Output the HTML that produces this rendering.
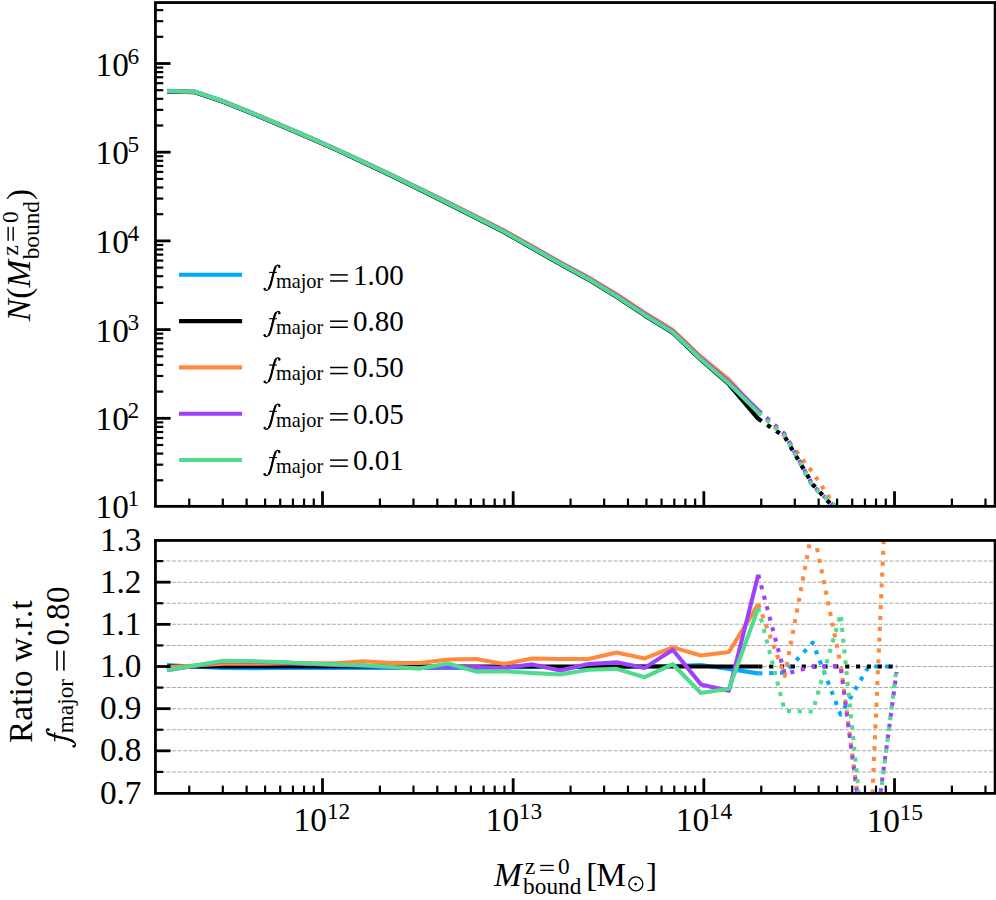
<!DOCTYPE html><html><head><meta charset="utf-8"><style>html,body{margin:0;padding:0;background:#fff;}svg{display:block;}text{font-family:"Liberation Serif",serif;fill:#000;}</style></head><body>
<svg width="996" height="900" viewBox="0 0 996 900">
<rect x="0" y="0" width="996" height="900" fill="#fff"/>
<defs>
<clipPath id="ct"><rect x="155.45" y="2.55" width="839.6500000000001" height="503.8"/></clipPath>
<clipPath id="cb"><rect x="155.45" y="540.45" width="839.6500000000001" height="252.94999999999993"/></clipPath>
</defs>
<line x1="155.45" y1="771.90" x2="995.1" y2="771.90" stroke="#a8a8a8" stroke-width="1.04" stroke-dasharray="3.85 1.67"/>
<line x1="155.45" y1="750.82" x2="995.1" y2="750.82" stroke="#a8a8a8" stroke-width="1.04" stroke-dasharray="3.85 1.67"/>
<line x1="155.45" y1="729.74" x2="995.1" y2="729.74" stroke="#a8a8a8" stroke-width="1.04" stroke-dasharray="3.85 1.67"/>
<line x1="155.45" y1="708.66" x2="995.1" y2="708.66" stroke="#a8a8a8" stroke-width="1.04" stroke-dasharray="3.85 1.67"/>
<line x1="155.45" y1="687.58" x2="995.1" y2="687.58" stroke="#a8a8a8" stroke-width="1.04" stroke-dasharray="3.85 1.67"/>
<line x1="155.45" y1="666.50" x2="995.1" y2="666.50" stroke="#a8a8a8" stroke-width="1.04" stroke-dasharray="3.85 1.67"/>
<line x1="155.45" y1="645.42" x2="995.1" y2="645.42" stroke="#a8a8a8" stroke-width="1.04" stroke-dasharray="3.85 1.67"/>
<line x1="155.45" y1="624.34" x2="995.1" y2="624.34" stroke="#a8a8a8" stroke-width="1.04" stroke-dasharray="3.85 1.67"/>
<line x1="155.45" y1="603.26" x2="995.1" y2="603.26" stroke="#a8a8a8" stroke-width="1.04" stroke-dasharray="3.85 1.67"/>
<line x1="155.45" y1="582.18" x2="995.1" y2="582.18" stroke="#a8a8a8" stroke-width="1.04" stroke-dasharray="3.85 1.67"/>
<line x1="155.45" y1="561.10" x2="995.1" y2="561.10" stroke="#a8a8a8" stroke-width="1.04" stroke-dasharray="3.85 1.67"/>
<polyline clip-path="url(#ct)" points="167.00,91.50 195.10,92.20 223.20,101.80 251.30,113.10 279.40,125.10 307.50,137.00 335.60,149.50 363.70,162.60 391.80,175.90 419.90,189.70 448.00,203.60 476.10,217.80 504.20,232.20 532.30,248.30 560.40,264.30 588.50,279.60 616.60,296.70 644.70,315.40 672.80,332.80 700.90,359.80 729.00,384.30 758.30,418.80" fill="none" stroke="#00a9ff" stroke-width="4.1" stroke-linejoin="round" stroke-linecap="butt"/>
<polyline clip-path="url(#ct)" points="758.30,418.80 784.70,436.70 812.70,484.50 840.60,515.00 868.60,600.00 896.60,650.00" fill="none" stroke="#00a9ff" stroke-width="4.1" stroke-linejoin="round" stroke-linecap="butt" stroke-dasharray="4.10 6.76"/>
<polyline clip-path="url(#cb)" points="167.00,665.00 195.10,666.80 223.20,668.00 251.30,668.30 279.40,668.00 307.50,668.00 335.60,668.00 363.70,668.00 391.80,668.00 419.90,668.00 448.00,668.00 476.10,668.00 504.20,667.50 532.30,667.00 560.40,667.00 588.50,667.00 616.60,667.00 644.70,666.50 672.80,666.00 700.90,665.00 729.00,669.00 758.30,673.40" fill="none" stroke="#00a9ff" stroke-width="4.1" stroke-linejoin="round" stroke-linecap="butt"/>
<polyline clip-path="url(#cb)" points="758.30,673.40 784.70,672.80 812.70,642.60 840.60,714.70 868.60,666.50 896.60,666.50" fill="none" stroke="#00a9ff" stroke-width="4.1" stroke-linejoin="round" stroke-linecap="butt" stroke-dasharray="4.10 6.76"/>
<polyline clip-path="url(#ct)" points="167.00,91.50 195.10,92.20 223.20,101.80 251.30,113.10 279.40,125.10 307.50,137.00 335.60,149.50 363.70,162.60 391.80,175.90 419.90,189.70 448.00,203.60 476.10,217.80 504.20,232.20 532.30,248.30 560.40,264.30 588.50,279.60 616.60,296.70 644.70,315.40 672.80,332.80 700.90,359.80 729.00,384.30 758.30,418.80" fill="none" stroke="#000000" stroke-width="4.1" stroke-linejoin="round" stroke-linecap="butt"/>
<polyline clip-path="url(#ct)" points="758.30,418.80 784.70,436.70 812.70,484.50 840.60,515.00 868.60,600.00 896.60,650.00" fill="none" stroke="#000000" stroke-width="4.1" stroke-linejoin="round" stroke-linecap="butt" stroke-dasharray="4.10 6.76"/>
<polyline clip-path="url(#cb)" points="167.00,666.50 195.10,666.50 223.20,666.50 251.30,666.50 279.40,666.50 307.50,666.50 335.60,666.50 363.70,666.50 391.80,666.50 419.90,666.50 448.00,666.50 476.10,666.50 504.20,666.50 532.30,666.50 560.40,666.50 588.50,666.50 616.60,666.50 644.70,666.50 672.80,666.50 700.90,666.50 729.00,666.50 758.30,666.50" fill="none" stroke="#000000" stroke-width="4.1" stroke-linejoin="round" stroke-linecap="butt"/>
<polyline clip-path="url(#cb)" points="758.30,666.50 784.70,666.50 812.70,666.50 840.60,666.50 868.60,666.50 896.60,666.50" fill="none" stroke="#000000" stroke-width="4.1" stroke-linejoin="round" stroke-linecap="butt" stroke-dasharray="4.10 6.76"/>
<polyline clip-path="url(#ct)" points="167.00,91.00 195.10,91.70 223.20,101.30 251.30,112.60 279.40,124.60 307.50,136.50 335.60,149.00 363.70,161.90 391.80,175.00 419.90,188.60 448.00,202.30 476.10,216.30 504.20,230.50 532.30,246.40 560.40,262.20 588.50,277.30 616.60,294.20 644.70,312.70 672.80,329.90 700.90,356.70 729.00,379.50 758.30,412.00" fill="none" stroke="#ff8a3d" stroke-width="4.1" stroke-linejoin="round" stroke-linecap="butt"/>
<polyline clip-path="url(#ct)" points="758.30,412.00 784.70,436.00 812.70,472.50 840.60,514.50 868.60,600.00 896.60,650.00" fill="none" stroke="#ff8a3d" stroke-width="4.1" stroke-linejoin="round" stroke-linecap="butt" stroke-dasharray="4.10 6.76"/>
<polyline clip-path="url(#cb)" points="167.00,667.20 195.10,665.50 223.20,663.80 251.30,663.60 279.40,663.50 307.50,663.30 335.60,663.30 363.70,661.30 391.80,663.00 419.90,663.00 448.00,659.50 476.10,659.00 504.20,664.00 532.30,658.50 560.40,659.00 588.50,659.00 616.60,652.50 644.70,658.40 672.80,647.40 700.90,655.50 729.00,652.00 758.30,604.10" fill="none" stroke="#ff8a3d" stroke-width="4.1" stroke-linejoin="round" stroke-linecap="butt"/>
<polyline clip-path="url(#cb)" points="758.30,604.10 784.70,676.00 812.70,527.00 840.60,664.00" fill="none" stroke="#ff8a3d" stroke-width="4.1" stroke-linejoin="round" stroke-linecap="butt" stroke-dasharray="4.10 6.76"/>
<polyline clip-path="url(#cb)" points="840.60,664.00 868.60,881.52 896.60,249.12" fill="none" stroke="#ff8a3d" stroke-width="4.1" stroke-linejoin="round" stroke-linecap="butt" stroke-dasharray="4.10 6.76" stroke-dashoffset="159.64"/>
<polyline clip-path="url(#ct)" points="167.00,90.90 195.10,91.60 223.20,101.20 251.30,112.50 279.40,124.50 307.50,136.40 335.60,148.90 363.70,161.92 391.80,175.14 419.90,188.86 448.00,202.68 476.10,216.80 504.20,231.12 532.30,247.14 560.40,263.06 588.50,278.28 616.60,295.30 644.70,313.92 672.80,331.24 700.90,358.16 729.00,382.00 758.30,410.30" fill="none" stroke="#a040ff" stroke-width="4.1" stroke-linejoin="round" stroke-linecap="butt"/>
<polyline clip-path="url(#ct)" points="758.30,410.30 784.70,434.00 812.70,485.00 840.60,513.00 868.60,600.00 896.60,650.00" fill="none" stroke="#a040ff" stroke-width="4.1" stroke-linejoin="round" stroke-linecap="butt" stroke-dasharray="4.10 6.76"/>
<polyline clip-path="url(#cb)" points="167.00,670.30 195.10,665.80 223.20,661.20 251.30,661.60 279.40,662.40 307.50,663.90 335.60,664.90 363.70,665.70 391.80,667.30 419.90,668.00 448.00,666.80 476.10,667.00 504.20,668.00 532.30,664.40 560.40,670.50 588.50,664.10 616.60,662.20 644.70,667.90 672.80,649.70 700.90,684.40 729.00,690.70 758.30,574.70" fill="none" stroke="#a040ff" stroke-width="4.1" stroke-linejoin="round" stroke-linecap="butt"/>
<polyline clip-path="url(#cb)" points="758.30,574.70 784.70,674.00 812.70,666.50 840.60,666.00 868.60,881.52 896.60,672.00" fill="none" stroke="#a040ff" stroke-width="4.1" stroke-linejoin="round" stroke-linecap="butt" stroke-dasharray="4.10 6.76"/>
<polyline clip-path="url(#ct)" points="167.00,91.00 195.10,91.70 223.20,101.30 251.30,112.60 279.40,124.60 307.50,136.50 335.60,149.00 363.70,162.10 391.80,175.40 419.90,189.20 448.00,203.10 476.10,217.30 504.20,231.70 532.30,247.80 560.40,263.80 588.50,279.10 616.60,296.20 644.70,314.90 672.80,332.30 700.90,359.30 729.00,383.50 758.30,412.60" fill="none" stroke="#50dc8c" stroke-width="4.1" stroke-linejoin="round" stroke-linecap="butt"/>
<polyline clip-path="url(#ct)" points="758.30,412.60 784.70,435.50 812.70,487.00 840.60,509.50 868.60,600.00 896.60,650.00" fill="none" stroke="#50dc8c" stroke-width="4.1" stroke-linejoin="round" stroke-linecap="butt" stroke-dasharray="4.10 6.76"/>
<polyline clip-path="url(#cb)" points="167.00,670.00 195.10,665.50 223.20,660.80 251.30,661.20 279.40,662.00 307.50,663.50 335.60,664.50 363.70,665.30 391.80,667.00 419.90,668.60 448.00,663.50 476.10,671.60 504.20,671.30 532.30,673.00 560.40,674.50 588.50,669.70 616.60,668.90 644.70,677.20 672.80,664.20 700.90,693.00 729.00,688.70 758.30,607.90" fill="none" stroke="#50dc8c" stroke-width="4.1" stroke-linejoin="round" stroke-linecap="butt"/>
<polyline clip-path="url(#cb)" points="758.30,607.90 784.70,711.00 812.70,711.50 840.60,614.00 868.60,889.95 896.60,668.00" fill="none" stroke="#50dc8c" stroke-width="4.1" stroke-linejoin="round" stroke-linecap="butt" stroke-dasharray="4.10 6.76"/>
<line x1="189.23" y1="506.35" x2="189.23" y2="498.55" stroke="#000" stroke-width="2.2"/>
<line x1="222.80" y1="506.35" x2="222.80" y2="498.55" stroke="#000" stroke-width="2.2"/>
<line x1="246.62" y1="506.35" x2="246.62" y2="498.55" stroke="#000" stroke-width="2.2"/>
<line x1="265.10" y1="506.35" x2="265.10" y2="498.55" stroke="#000" stroke-width="2.2"/>
<line x1="280.20" y1="506.35" x2="280.20" y2="498.55" stroke="#000" stroke-width="2.2"/>
<line x1="292.96" y1="506.35" x2="292.96" y2="498.55" stroke="#000" stroke-width="2.2"/>
<line x1="304.02" y1="506.35" x2="304.02" y2="498.55" stroke="#000" stroke-width="2.2"/>
<line x1="313.78" y1="506.35" x2="313.78" y2="498.55" stroke="#000" stroke-width="2.2"/>
<line x1="322.50" y1="506.35" x2="322.50" y2="491.25" stroke="#000" stroke-width="2.8"/>
<line x1="379.90" y1="506.35" x2="379.90" y2="498.55" stroke="#000" stroke-width="2.2"/>
<line x1="413.47" y1="506.35" x2="413.47" y2="498.55" stroke="#000" stroke-width="2.2"/>
<line x1="437.29" y1="506.35" x2="437.29" y2="498.55" stroke="#000" stroke-width="2.2"/>
<line x1="455.77" y1="506.35" x2="455.77" y2="498.55" stroke="#000" stroke-width="2.2"/>
<line x1="470.87" y1="506.35" x2="470.87" y2="498.55" stroke="#000" stroke-width="2.2"/>
<line x1="483.63" y1="506.35" x2="483.63" y2="498.55" stroke="#000" stroke-width="2.2"/>
<line x1="494.69" y1="506.35" x2="494.69" y2="498.55" stroke="#000" stroke-width="2.2"/>
<line x1="504.45" y1="506.35" x2="504.45" y2="498.55" stroke="#000" stroke-width="2.2"/>
<line x1="513.17" y1="506.35" x2="513.17" y2="491.25" stroke="#000" stroke-width="2.8"/>
<line x1="570.57" y1="506.35" x2="570.57" y2="498.55" stroke="#000" stroke-width="2.2"/>
<line x1="604.14" y1="506.35" x2="604.14" y2="498.55" stroke="#000" stroke-width="2.2"/>
<line x1="627.96" y1="506.35" x2="627.96" y2="498.55" stroke="#000" stroke-width="2.2"/>
<line x1="646.44" y1="506.35" x2="646.44" y2="498.55" stroke="#000" stroke-width="2.2"/>
<line x1="661.54" y1="506.35" x2="661.54" y2="498.55" stroke="#000" stroke-width="2.2"/>
<line x1="674.30" y1="506.35" x2="674.30" y2="498.55" stroke="#000" stroke-width="2.2"/>
<line x1="685.36" y1="506.35" x2="685.36" y2="498.55" stroke="#000" stroke-width="2.2"/>
<line x1="695.12" y1="506.35" x2="695.12" y2="498.55" stroke="#000" stroke-width="2.2"/>
<line x1="703.84" y1="506.35" x2="703.84" y2="491.25" stroke="#000" stroke-width="2.8"/>
<line x1="761.24" y1="506.35" x2="761.24" y2="498.55" stroke="#000" stroke-width="2.2"/>
<line x1="794.81" y1="506.35" x2="794.81" y2="498.55" stroke="#000" stroke-width="2.2"/>
<line x1="818.63" y1="506.35" x2="818.63" y2="498.55" stroke="#000" stroke-width="2.2"/>
<line x1="837.11" y1="506.35" x2="837.11" y2="498.55" stroke="#000" stroke-width="2.2"/>
<line x1="852.21" y1="506.35" x2="852.21" y2="498.55" stroke="#000" stroke-width="2.2"/>
<line x1="864.97" y1="506.35" x2="864.97" y2="498.55" stroke="#000" stroke-width="2.2"/>
<line x1="876.03" y1="506.35" x2="876.03" y2="498.55" stroke="#000" stroke-width="2.2"/>
<line x1="885.79" y1="506.35" x2="885.79" y2="498.55" stroke="#000" stroke-width="2.2"/>
<line x1="894.51" y1="506.35" x2="894.51" y2="491.25" stroke="#000" stroke-width="2.8"/>
<line x1="951.91" y1="506.35" x2="951.91" y2="498.55" stroke="#000" stroke-width="2.2"/>
<line x1="985.48" y1="506.35" x2="985.48" y2="498.55" stroke="#000" stroke-width="2.2"/>
<line x1="189.23" y1="793.4" x2="189.23" y2="785.60" stroke="#000" stroke-width="2.2"/>
<line x1="222.80" y1="793.4" x2="222.80" y2="785.60" stroke="#000" stroke-width="2.2"/>
<line x1="246.62" y1="793.4" x2="246.62" y2="785.60" stroke="#000" stroke-width="2.2"/>
<line x1="265.10" y1="793.4" x2="265.10" y2="785.60" stroke="#000" stroke-width="2.2"/>
<line x1="280.20" y1="793.4" x2="280.20" y2="785.60" stroke="#000" stroke-width="2.2"/>
<line x1="292.96" y1="793.4" x2="292.96" y2="785.60" stroke="#000" stroke-width="2.2"/>
<line x1="304.02" y1="793.4" x2="304.02" y2="785.60" stroke="#000" stroke-width="2.2"/>
<line x1="313.78" y1="793.4" x2="313.78" y2="785.60" stroke="#000" stroke-width="2.2"/>
<line x1="322.50" y1="793.4" x2="322.50" y2="778.30" stroke="#000" stroke-width="2.8"/>
<line x1="379.90" y1="793.4" x2="379.90" y2="785.60" stroke="#000" stroke-width="2.2"/>
<line x1="413.47" y1="793.4" x2="413.47" y2="785.60" stroke="#000" stroke-width="2.2"/>
<line x1="437.29" y1="793.4" x2="437.29" y2="785.60" stroke="#000" stroke-width="2.2"/>
<line x1="455.77" y1="793.4" x2="455.77" y2="785.60" stroke="#000" stroke-width="2.2"/>
<line x1="470.87" y1="793.4" x2="470.87" y2="785.60" stroke="#000" stroke-width="2.2"/>
<line x1="483.63" y1="793.4" x2="483.63" y2="785.60" stroke="#000" stroke-width="2.2"/>
<line x1="494.69" y1="793.4" x2="494.69" y2="785.60" stroke="#000" stroke-width="2.2"/>
<line x1="504.45" y1="793.4" x2="504.45" y2="785.60" stroke="#000" stroke-width="2.2"/>
<line x1="513.17" y1="793.4" x2="513.17" y2="778.30" stroke="#000" stroke-width="2.8"/>
<line x1="570.57" y1="793.4" x2="570.57" y2="785.60" stroke="#000" stroke-width="2.2"/>
<line x1="604.14" y1="793.4" x2="604.14" y2="785.60" stroke="#000" stroke-width="2.2"/>
<line x1="627.96" y1="793.4" x2="627.96" y2="785.60" stroke="#000" stroke-width="2.2"/>
<line x1="646.44" y1="793.4" x2="646.44" y2="785.60" stroke="#000" stroke-width="2.2"/>
<line x1="661.54" y1="793.4" x2="661.54" y2="785.60" stroke="#000" stroke-width="2.2"/>
<line x1="674.30" y1="793.4" x2="674.30" y2="785.60" stroke="#000" stroke-width="2.2"/>
<line x1="685.36" y1="793.4" x2="685.36" y2="785.60" stroke="#000" stroke-width="2.2"/>
<line x1="695.12" y1="793.4" x2="695.12" y2="785.60" stroke="#000" stroke-width="2.2"/>
<line x1="703.84" y1="793.4" x2="703.84" y2="778.30" stroke="#000" stroke-width="2.8"/>
<line x1="761.24" y1="793.4" x2="761.24" y2="785.60" stroke="#000" stroke-width="2.2"/>
<line x1="794.81" y1="793.4" x2="794.81" y2="785.60" stroke="#000" stroke-width="2.2"/>
<line x1="818.63" y1="793.4" x2="818.63" y2="785.60" stroke="#000" stroke-width="2.2"/>
<line x1="837.11" y1="793.4" x2="837.11" y2="785.60" stroke="#000" stroke-width="2.2"/>
<line x1="852.21" y1="793.4" x2="852.21" y2="785.60" stroke="#000" stroke-width="2.2"/>
<line x1="864.97" y1="793.4" x2="864.97" y2="785.60" stroke="#000" stroke-width="2.2"/>
<line x1="876.03" y1="793.4" x2="876.03" y2="785.60" stroke="#000" stroke-width="2.2"/>
<line x1="885.79" y1="793.4" x2="885.79" y2="785.60" stroke="#000" stroke-width="2.2"/>
<line x1="894.51" y1="793.4" x2="894.51" y2="778.30" stroke="#000" stroke-width="2.8"/>
<line x1="951.91" y1="793.4" x2="951.91" y2="785.60" stroke="#000" stroke-width="2.2"/>
<line x1="985.48" y1="793.4" x2="985.48" y2="785.60" stroke="#000" stroke-width="2.2"/>
<line x1="155.45" y1="480.30" x2="163.25" y2="480.30" stroke="#000" stroke-width="2.2"/>
<line x1="155.45" y1="464.68" x2="163.25" y2="464.68" stroke="#000" stroke-width="2.2"/>
<line x1="155.45" y1="453.60" x2="163.25" y2="453.60" stroke="#000" stroke-width="2.2"/>
<line x1="155.45" y1="445.00" x2="163.25" y2="445.00" stroke="#000" stroke-width="2.2"/>
<line x1="155.45" y1="437.98" x2="163.25" y2="437.98" stroke="#000" stroke-width="2.2"/>
<line x1="155.45" y1="432.04" x2="163.25" y2="432.04" stroke="#000" stroke-width="2.2"/>
<line x1="155.45" y1="426.90" x2="163.25" y2="426.90" stroke="#000" stroke-width="2.2"/>
<line x1="155.45" y1="422.36" x2="163.25" y2="422.36" stroke="#000" stroke-width="2.2"/>
<line x1="155.45" y1="418.30" x2="170.55" y2="418.30" stroke="#000" stroke-width="2.8"/>
<line x1="155.45" y1="391.60" x2="163.25" y2="391.60" stroke="#000" stroke-width="2.2"/>
<line x1="155.45" y1="375.98" x2="163.25" y2="375.98" stroke="#000" stroke-width="2.2"/>
<line x1="155.45" y1="364.90" x2="163.25" y2="364.90" stroke="#000" stroke-width="2.2"/>
<line x1="155.45" y1="356.30" x2="163.25" y2="356.30" stroke="#000" stroke-width="2.2"/>
<line x1="155.45" y1="349.28" x2="163.25" y2="349.28" stroke="#000" stroke-width="2.2"/>
<line x1="155.45" y1="343.34" x2="163.25" y2="343.34" stroke="#000" stroke-width="2.2"/>
<line x1="155.45" y1="338.20" x2="163.25" y2="338.20" stroke="#000" stroke-width="2.2"/>
<line x1="155.45" y1="333.66" x2="163.25" y2="333.66" stroke="#000" stroke-width="2.2"/>
<line x1="155.45" y1="329.60" x2="170.55" y2="329.60" stroke="#000" stroke-width="2.8"/>
<line x1="155.45" y1="302.90" x2="163.25" y2="302.90" stroke="#000" stroke-width="2.2"/>
<line x1="155.45" y1="287.28" x2="163.25" y2="287.28" stroke="#000" stroke-width="2.2"/>
<line x1="155.45" y1="276.20" x2="163.25" y2="276.20" stroke="#000" stroke-width="2.2"/>
<line x1="155.45" y1="267.60" x2="163.25" y2="267.60" stroke="#000" stroke-width="2.2"/>
<line x1="155.45" y1="260.58" x2="163.25" y2="260.58" stroke="#000" stroke-width="2.2"/>
<line x1="155.45" y1="254.64" x2="163.25" y2="254.64" stroke="#000" stroke-width="2.2"/>
<line x1="155.45" y1="249.50" x2="163.25" y2="249.50" stroke="#000" stroke-width="2.2"/>
<line x1="155.45" y1="244.96" x2="163.25" y2="244.96" stroke="#000" stroke-width="2.2"/>
<line x1="155.45" y1="240.90" x2="170.55" y2="240.90" stroke="#000" stroke-width="2.8"/>
<line x1="155.45" y1="214.20" x2="163.25" y2="214.20" stroke="#000" stroke-width="2.2"/>
<line x1="155.45" y1="198.58" x2="163.25" y2="198.58" stroke="#000" stroke-width="2.2"/>
<line x1="155.45" y1="187.50" x2="163.25" y2="187.50" stroke="#000" stroke-width="2.2"/>
<line x1="155.45" y1="178.90" x2="163.25" y2="178.90" stroke="#000" stroke-width="2.2"/>
<line x1="155.45" y1="171.88" x2="163.25" y2="171.88" stroke="#000" stroke-width="2.2"/>
<line x1="155.45" y1="165.94" x2="163.25" y2="165.94" stroke="#000" stroke-width="2.2"/>
<line x1="155.45" y1="160.80" x2="163.25" y2="160.80" stroke="#000" stroke-width="2.2"/>
<line x1="155.45" y1="156.26" x2="163.25" y2="156.26" stroke="#000" stroke-width="2.2"/>
<line x1="155.45" y1="152.20" x2="170.55" y2="152.20" stroke="#000" stroke-width="2.8"/>
<line x1="155.45" y1="125.50" x2="163.25" y2="125.50" stroke="#000" stroke-width="2.2"/>
<line x1="155.45" y1="109.88" x2="163.25" y2="109.88" stroke="#000" stroke-width="2.2"/>
<line x1="155.45" y1="98.80" x2="163.25" y2="98.80" stroke="#000" stroke-width="2.2"/>
<line x1="155.45" y1="90.20" x2="163.25" y2="90.20" stroke="#000" stroke-width="2.2"/>
<line x1="155.45" y1="83.18" x2="163.25" y2="83.18" stroke="#000" stroke-width="2.2"/>
<line x1="155.45" y1="77.24" x2="163.25" y2="77.24" stroke="#000" stroke-width="2.2"/>
<line x1="155.45" y1="72.10" x2="163.25" y2="72.10" stroke="#000" stroke-width="2.2"/>
<line x1="155.45" y1="67.56" x2="163.25" y2="67.56" stroke="#000" stroke-width="2.2"/>
<line x1="155.45" y1="63.50" x2="170.55" y2="63.50" stroke="#000" stroke-width="2.8"/>
<line x1="155.45" y1="36.80" x2="163.25" y2="36.80" stroke="#000" stroke-width="2.2"/>
<line x1="155.45" y1="21.18" x2="163.25" y2="21.18" stroke="#000" stroke-width="2.2"/>
<line x1="155.45" y1="10.10" x2="163.25" y2="10.10" stroke="#000" stroke-width="2.2"/>
<line x1="155.45" y1="771.90" x2="163.25" y2="771.90" stroke="#000" stroke-width="2.2"/>
<line x1="155.45" y1="750.82" x2="170.55" y2="750.82" stroke="#000" stroke-width="2.8"/>
<line x1="155.45" y1="729.74" x2="163.25" y2="729.74" stroke="#000" stroke-width="2.2"/>
<line x1="155.45" y1="708.66" x2="170.55" y2="708.66" stroke="#000" stroke-width="2.8"/>
<line x1="155.45" y1="687.58" x2="163.25" y2="687.58" stroke="#000" stroke-width="2.2"/>
<line x1="155.45" y1="666.50" x2="170.55" y2="666.50" stroke="#000" stroke-width="2.8"/>
<line x1="155.45" y1="645.42" x2="163.25" y2="645.42" stroke="#000" stroke-width="2.2"/>
<line x1="155.45" y1="624.34" x2="170.55" y2="624.34" stroke="#000" stroke-width="2.8"/>
<line x1="155.45" y1="603.26" x2="163.25" y2="603.26" stroke="#000" stroke-width="2.2"/>
<line x1="155.45" y1="582.18" x2="170.55" y2="582.18" stroke="#000" stroke-width="2.8"/>
<line x1="155.45" y1="561.10" x2="163.25" y2="561.10" stroke="#000" stroke-width="2.2"/>
<rect x="155.45" y="2.55" width="839.65" height="503.80" fill="none" stroke="#000" stroke-width="2.8"/>
<rect x="155.45" y="540.45" width="839.65" height="252.95" fill="none" stroke="#000" stroke-width="2.8"/>
<line x1="179.0" y1="274.80" x2="242.1" y2="274.80" stroke="#00a9ff" stroke-width="4.1"/>
<g transform="translate(263,284.75)"><path d="M16.9,-18.3 C16.3,-20.3 13.2,-20.0 11.9,-17.0 C10.6,-14.0 9.6,-8.5 8.6,-4.5 C7.6,-0.5 6.6,2.8 5.2,4.6 C4.0,6.0 2.2,6.0 1.5,4.6" fill="none" stroke="#000" stroke-width="1.25"/><path d="M12.6,-17.8 C11.0,-14.0 9.8,-8.5 8.8,-4.5 C8.0,-1.0 7.2,1.8 6.0,3.6" fill="none" stroke="#000" stroke-width="2.1" stroke-linecap="round"/><circle cx="16.3" cy="-17.9" r="1.2" fill="#000"/><circle cx="1.7" cy="4.3" r="1.25" fill="#000"/><rect x="6.1" y="-12.9" width="7.8" height="1.1" fill="#000"/></g>
<text x="275.9" y="287.80" font-size="20.30">major</text>
<rect x="330.10" y="274.15" width="17.70" height="1.5" fill="#000"/><rect x="330.10" y="280.20" width="17.70" height="1.5" fill="#000"/>
<text x="353.0" y="284.75" font-size="29.0">1.00</text>
<line x1="179.0" y1="321.10" x2="242.1" y2="321.10" stroke="#000000" stroke-width="4.1"/>
<g transform="translate(263,331.05)"><path d="M16.9,-18.3 C16.3,-20.3 13.2,-20.0 11.9,-17.0 C10.6,-14.0 9.6,-8.5 8.6,-4.5 C7.6,-0.5 6.6,2.8 5.2,4.6 C4.0,6.0 2.2,6.0 1.5,4.6" fill="none" stroke="#000" stroke-width="1.25"/><path d="M12.6,-17.8 C11.0,-14.0 9.8,-8.5 8.8,-4.5 C8.0,-1.0 7.2,1.8 6.0,3.6" fill="none" stroke="#000" stroke-width="2.1" stroke-linecap="round"/><circle cx="16.3" cy="-17.9" r="1.2" fill="#000"/><circle cx="1.7" cy="4.3" r="1.25" fill="#000"/><rect x="6.1" y="-12.9" width="7.8" height="1.1" fill="#000"/></g>
<text x="275.9" y="334.10" font-size="20.30">major</text>
<rect x="330.10" y="320.45" width="17.70" height="1.5" fill="#000"/><rect x="330.10" y="326.50" width="17.70" height="1.5" fill="#000"/>
<text x="353.0" y="331.05" font-size="29.0">0.80</text>
<line x1="179.0" y1="367.40" x2="242.1" y2="367.40" stroke="#ff8a3d" stroke-width="4.1"/>
<g transform="translate(263,377.35)"><path d="M16.9,-18.3 C16.3,-20.3 13.2,-20.0 11.9,-17.0 C10.6,-14.0 9.6,-8.5 8.6,-4.5 C7.6,-0.5 6.6,2.8 5.2,4.6 C4.0,6.0 2.2,6.0 1.5,4.6" fill="none" stroke="#000" stroke-width="1.25"/><path d="M12.6,-17.8 C11.0,-14.0 9.8,-8.5 8.8,-4.5 C8.0,-1.0 7.2,1.8 6.0,3.6" fill="none" stroke="#000" stroke-width="2.1" stroke-linecap="round"/><circle cx="16.3" cy="-17.9" r="1.2" fill="#000"/><circle cx="1.7" cy="4.3" r="1.25" fill="#000"/><rect x="6.1" y="-12.9" width="7.8" height="1.1" fill="#000"/></g>
<text x="275.9" y="380.40" font-size="20.30">major</text>
<rect x="330.10" y="366.75" width="17.70" height="1.5" fill="#000"/><rect x="330.10" y="372.80" width="17.70" height="1.5" fill="#000"/>
<text x="353.0" y="377.35" font-size="29.0">0.50</text>
<line x1="179.0" y1="413.70" x2="242.1" y2="413.70" stroke="#a040ff" stroke-width="4.1"/>
<g transform="translate(263,423.65)"><path d="M16.9,-18.3 C16.3,-20.3 13.2,-20.0 11.9,-17.0 C10.6,-14.0 9.6,-8.5 8.6,-4.5 C7.6,-0.5 6.6,2.8 5.2,4.6 C4.0,6.0 2.2,6.0 1.5,4.6" fill="none" stroke="#000" stroke-width="1.25"/><path d="M12.6,-17.8 C11.0,-14.0 9.8,-8.5 8.8,-4.5 C8.0,-1.0 7.2,1.8 6.0,3.6" fill="none" stroke="#000" stroke-width="2.1" stroke-linecap="round"/><circle cx="16.3" cy="-17.9" r="1.2" fill="#000"/><circle cx="1.7" cy="4.3" r="1.25" fill="#000"/><rect x="6.1" y="-12.9" width="7.8" height="1.1" fill="#000"/></g>
<text x="275.9" y="426.70" font-size="20.30">major</text>
<rect x="330.10" y="413.05" width="17.70" height="1.5" fill="#000"/><rect x="330.10" y="419.10" width="17.70" height="1.5" fill="#000"/>
<text x="353.0" y="423.65" font-size="29.0">0.05</text>
<line x1="179.0" y1="460.00" x2="242.1" y2="460.00" stroke="#50dc8c" stroke-width="4.1"/>
<g transform="translate(263,469.95)"><path d="M16.9,-18.3 C16.3,-20.3 13.2,-20.0 11.9,-17.0 C10.6,-14.0 9.6,-8.5 8.6,-4.5 C7.6,-0.5 6.6,2.8 5.2,4.6 C4.0,6.0 2.2,6.0 1.5,4.6" fill="none" stroke="#000" stroke-width="1.25"/><path d="M12.6,-17.8 C11.0,-14.0 9.8,-8.5 8.8,-4.5 C8.0,-1.0 7.2,1.8 6.0,3.6" fill="none" stroke="#000" stroke-width="2.1" stroke-linecap="round"/><circle cx="16.3" cy="-17.9" r="1.2" fill="#000"/><circle cx="1.7" cy="4.3" r="1.25" fill="#000"/><rect x="6.1" y="-12.9" width="7.8" height="1.1" fill="#000"/></g>
<text x="275.9" y="473.00" font-size="20.30">major</text>
<rect x="330.10" y="459.35" width="17.70" height="1.5" fill="#000"/><rect x="330.10" y="465.40" width="17.70" height="1.5" fill="#000"/>
<text x="353.0" y="469.95" font-size="29.0">0.01</text>
<text x="95.6" y="76.0" font-size="33.3">10</text>
<text x="127.6" y="64.00" font-size="23.3">6</text>
<text x="95.6" y="163.7" font-size="33.3">10</text>
<text x="127.6" y="151.70" font-size="23.3">5</text>
<text x="95.6" y="252.8" font-size="33.3">10</text>
<text x="127.6" y="240.80" font-size="23.3">4</text>
<text x="95.6" y="341.9" font-size="33.3">10</text>
<text x="127.6" y="329.90" font-size="23.3">3</text>
<text x="95.6" y="429.8" font-size="33.3">10</text>
<text x="127.6" y="417.80" font-size="23.3">2</text>
<text x="95.6" y="518.0" font-size="33.3">10</text>
<text x="127.6" y="506.00" font-size="23.3">1</text>
<text x="141.5" y="803.58" font-size="33.3" text-anchor="end">0.7</text>
<text x="141.5" y="761.42" font-size="33.3" text-anchor="end">0.8</text>
<text x="141.5" y="719.26" font-size="33.3" text-anchor="end">0.9</text>
<text x="141.5" y="677.10" font-size="33.3" text-anchor="end">1.0</text>
<text x="141.5" y="634.94" font-size="33.3" text-anchor="end">1.1</text>
<text x="141.5" y="592.78" font-size="33.3" text-anchor="end">1.2</text>
<text x="141.5" y="550.62" font-size="33.3" text-anchor="end">1.3</text>
<text x="293.60" y="831.1" font-size="33.3">10</text>
<text x="326.95" y="818.90" font-size="23.3">12</text>
<text x="485.80" y="831.1" font-size="33.3">10</text>
<text x="518.75" y="818.90" font-size="23.3">13</text>
<text x="675.80" y="831.1" font-size="33.3">10</text>
<text x="708.75" y="818.90" font-size="23.3">14</text>
<text x="866.70" y="832.0" font-size="33.3">10</text>
<text x="899.65" y="819.80" font-size="23.3">15</text>
<text x="493.89" y="885.6" font-size="33.3" font-style="italic">M</text>
<text x="525.07" y="873.6" font-size="23.3">z</text>
<rect x="540.20" y="864.85" width="13.60" height="1.3" fill="#000"/><rect x="540.20" y="869.65" width="13.60" height="1.3" fill="#000"/>
<text x="557.91" y="873.5" font-size="23.3">0</text>
<text x="523.1" y="894.0" font-size="23.3">bound</text>
<text x="586.33" y="886.4" font-size="33.3">[</text>
<text x="596.34" y="885.9" font-size="33.3">M</text>
<circle cx="635.85" cy="883.9" r="7.0" fill="none" stroke="#000" stroke-width="1.4"/>
<circle cx="635.6" cy="884.1" r="1.35" fill="#000"/>
<text x="645.90" y="886.4" font-size="33.3">]</text>
<g transform="translate(29.8,322.1) rotate(-90)">
<text x="0.94" y="0" font-size="33.3" font-style="italic">N</text>
<text x="23.3" y="0" font-size="33.3">(</text>
<text x="34.5" y="0" font-size="33.3" font-style="italic">M</text>
<text x="66.5" y="-12" font-size="23.3">z</text>
<rect x="81.30" y="-22.35" width="14.00" height="1.4" fill="#000"/><rect x="81.30" y="-17.30" width="14.00" height="1.4" fill="#000"/>
<text x="99.1" y="-12" font-size="23.3">0</text>
<text x="62.8" y="8.7" font-size="23.3">bound</text>
<text x="122.0" y="0" font-size="33.3">)</text>
</g>
<g transform="translate(32.2,743.1) rotate(-90)">
<text x="0" y="0" font-size="33.3" style="font-kerning:none" textLength="142.9" lengthAdjust="spacing">Ratio w.r.t</text>
</g>
<g transform="translate(68.9,747.8) rotate(-90)">
<g transform="translate(-0.5,0) scale(1.1483)"><path d="M16.9,-18.3 C16.3,-20.3 13.2,-20.0 11.9,-17.0 C10.6,-14.0 9.6,-8.5 8.6,-4.5 C7.6,-0.5 6.6,2.8 5.2,4.6 C4.0,6.0 2.2,6.0 1.5,4.6" fill="none" stroke="#000" stroke-width="1.25"/><path d="M12.6,-17.8 C11.0,-14.0 9.8,-8.5 8.8,-4.5 C8.0,-1.0 7.2,1.8 6.0,3.6" fill="none" stroke="#000" stroke-width="2.1" stroke-linecap="round"/><circle cx="16.3" cy="-17.9" r="1.2" fill="#000"/><circle cx="1.7" cy="4.3" r="1.25" fill="#000"/><rect x="6.1" y="-12.9" width="7.8" height="1.1" fill="#000"/></g>
<text x="14.5" y="3.9" font-size="23.3">major</text>
<rect x="77.20" y="-12.70" width="20.00" height="1.6" fill="#000"/><rect x="77.20" y="-5.80" width="20.00" height="1.6" fill="#000"/>
<text x="102.2" y="0" font-size="33.3" textLength="59.2" lengthAdjust="spacing">0.80</text>
</g>
</svg></body></html>
